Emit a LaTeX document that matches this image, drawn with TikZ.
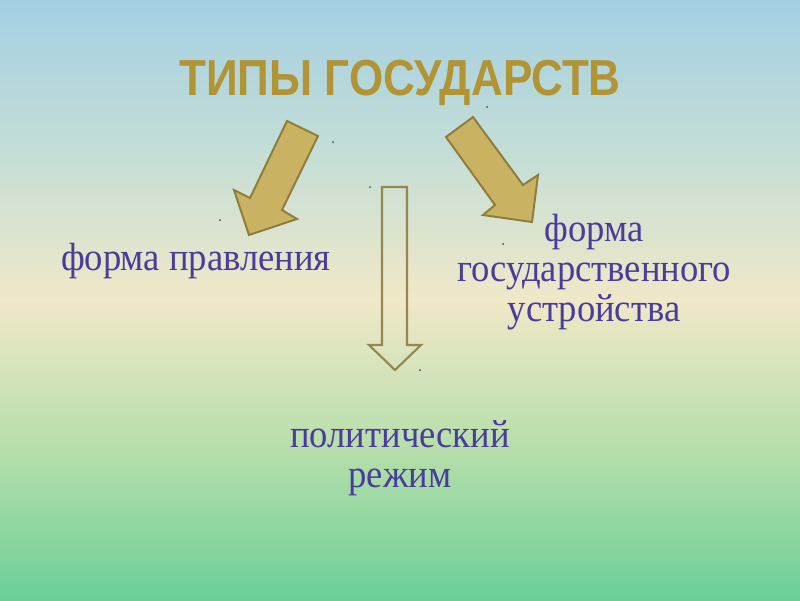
\documentclass[tikz,border=0pt]{standalone}
\usepackage{fontspec}
\setmainfont{Liberation Serif}[FakeStretch=0.93]
\newfontfamily\titlefont[FakeStretch=0.87]{Liberation Sans}
\usepackage{tikz}
\usetikzlibrary{calc}
\definecolor{bgtop}{HTML}{A4CFE3}
\definecolor{bgupper}{HTML}{C3DED6}
\definecolor{bgmid}{HTML}{F0E8C8}
\definecolor{bglower}{HTML}{B6DEAA}
\definecolor{bgbot}{HTML}{6CCF98}
\definecolor{gold}{HTML}{C9B262}
\definecolor{goldline}{HTML}{8E7D3C}
\definecolor{olive}{HTML}{94874F}
\definecolor{ink}{HTML}{4A3C9C}
\definecolor{titlegold}{HTML}{B39434}
\pgfdeclareverticalshading{bgshade}{100bp}{color(0bp)=(bgbot); color(25bp)=(bgbot); color(37.5bp)=(bglower); color(50bp)=(bgmid); color(62.5bp)=(bgupper); color(75bp)=(bgtop); color(100bp)=(bgtop)}
\tikzset{
  block/.style={fill=gold, draw=goldline, line width=1.4pt, line join=miter},
  hollow/.style={draw=olive, line width=1.5pt},
  lab/.style={text=ink, font=\fontsize{28}{28.5}\selectfont, align=center},
  head/.style={font=\titlefont\bfseries\fontsize{36}{40}\selectfont, anchor=base, text=titlegold},
  speck/.style={fill=gray!60!black},
}

\begin{document}
\begin{tikzpicture}[x=0.025cm, y=-0.025cm]
% background
\shade[shading=bgshade] (0,0) rectangle (800,600);
\useasboundingbox (0,0) rectangle (800,600);

% title
\node[head] (title) at (400,95) {ТИПЫ ГОСУДАРСТВ};

% Arrow 1
\draw[block] (287,121) -- (318,136) -- (282,210) -- (297,219) -- (249,235)
  -- (234,190) -- (250,198) -- cycle;

% Arrow 2
\draw[block] (446,137) -- (473,117) -- (523,185) -- (538,175) -- (532,222)
  -- (483,215) -- (495,205) -- cycle;

% Arrow 3
\draw[hollow] (382,187) -- (407,187) -- (407,345) -- (421,345) -- (395,370)
  -- (369,345) -- (382,345) -- cycle;

% labels
\node[lab, anchor=base] (gov) at (196,270) {форма правления};
\node[lab] (struct) at (594,272) {форма\\государственного\\устройства};
\node[lab] (regime) at (400,458) {политический\\режим};

% specks
\foreach \p in {(333,142),(370,187),(220,220),(487,107),(503,244),(420,370)}
  \fill[speck] \p circle (1);
\end{tikzpicture}
\end{document}
